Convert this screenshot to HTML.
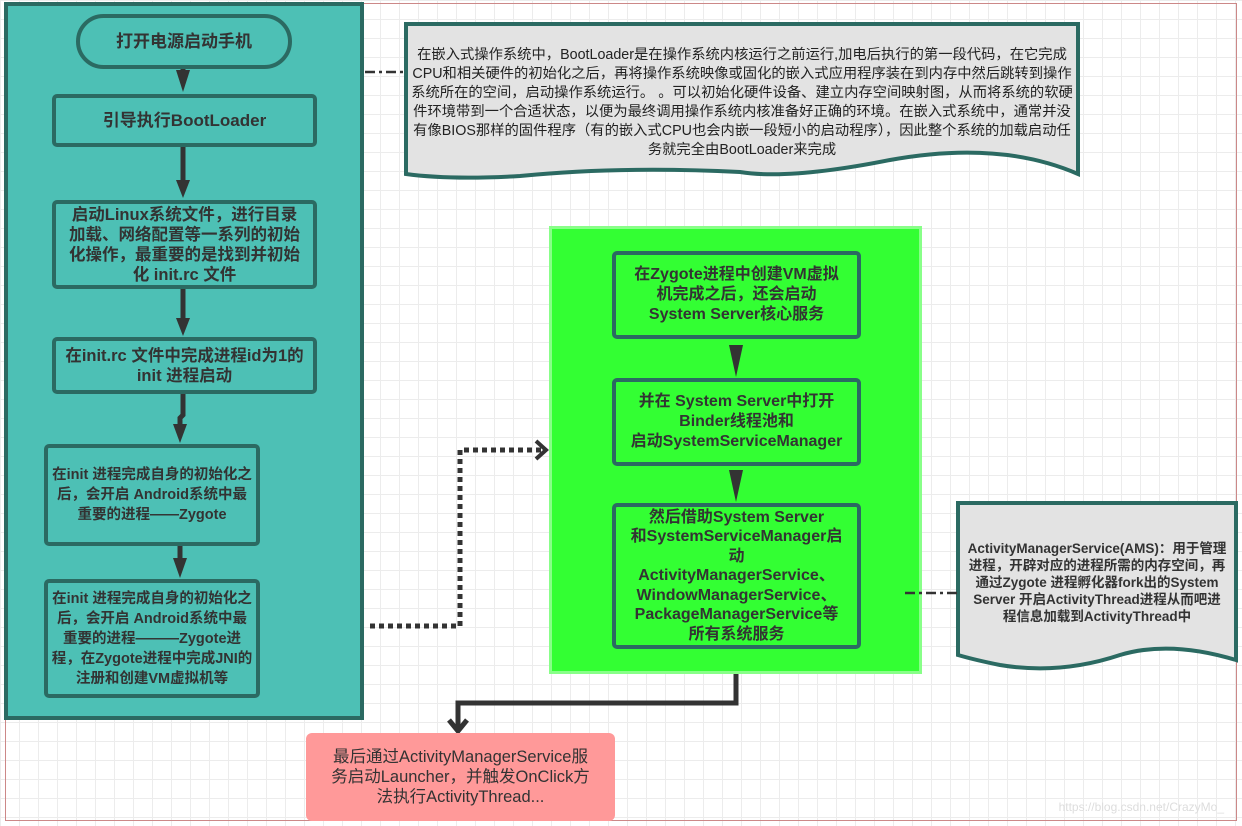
<!DOCTYPE html>
<html><head><meta charset="utf-8"><style>
body{margin:0;width:1242px;height:826px;overflow:hidden;background:#fff;
background-image:linear-gradient(#ececec 1px,transparent 1px),linear-gradient(90deg,#ececec 1px,transparent 1px);background-size:19px 19px;
font-family:"Liberation Sans","Noto Sans CJK SC",sans-serif;position:relative}
.b{position:absolute;box-sizing:border-box;display:flex;align-items:center;justify-content:center;text-align:center;font-weight:bold;color:#333;white-space:nowrap}
.t{background:#4DC0B5;border:4px solid #2B6A62;border-radius:5px;font-size:17px;line-height:20px}
.g{background:#33FF33;border:4px solid #2B6A62;border-radius:5px;font-size:16px;line-height:20px}
svg{position:absolute;left:0;top:0}
</style></head><body>
<div style="position:absolute;left:5px;top:3px;width:1232px;height:818px;border:1px solid #c88;box-sizing:border-box"></div>
<div class="b" style="left:4px;top:2px;width:360px;height:718px;background:#4DC0B5;border:4px solid #2B6A62"></div>
<div class="b" style="left:549px;top:226px;width:373px;height:448px;background:#33FF33;border:3px solid #88FF88"></div>
<svg width="1242" height="826">
<path d="M406 24 L1078 24 L1078 174 Q1000 140 890 160 Q790 180 740 172 Q620 166 520 176 Q450 180 406 174 Z" fill="#e3e3e3" stroke="#2B6A62" stroke-width="4"/>
<path d="M958 503 L1236 503 L1236 660 Q1170 640 1120 655 Q1060 675 1000 665 Q975 660 958 655 Z" fill="#e3e3e3" stroke="#2B6A62" stroke-width="4"/>
<g stroke="#333" stroke-width="5" fill="#333">
<line x1="183" y1="68" x2="183" y2="80"/><path d="M176 70 L190 70 L183 92 Z" stroke="none"/>
<line x1="183" y1="146" x2="183" y2="185"/><path d="M176 180 L190 180 L183 198 Z" stroke="none"/>
<line x1="183" y1="288" x2="183" y2="322"/><path d="M176 318 L190 318 L183 336 Z" stroke="none"/>
<path d="M183 393 L183 415 L180 418 L180 428" fill="none"/><path d="M173 424 L187 424 L180 443 Z" stroke="none"/>
<line x1="180" y1="545" x2="180" y2="562"/><path d="M173 558 L187 558 L180 578 Z" stroke="none"/>
<path d="M729 345 L743 345 L736 377 Z" stroke="none"/>
<path d="M729 470 L743 470 L736 502 Z" stroke="none"/>
<path d="M736 674 L736 703 L458 703 L458 728" fill="none"/>
<path d="M449 720 L458 731 L467 720" fill="none"/>
</g>
<path d="M370 626 L460 626 L460 450 L543 450" fill="none" stroke="#333" stroke-width="5" stroke-dasharray="5 4"/>
<path d="M536 441 L546 450 L536 459" fill="none" stroke="#333" stroke-width="4"/>
<line x1="365" y1="72" x2="405" y2="72" stroke="#333" stroke-width="2.5" stroke-dasharray="10 4 3 4"/>
<line x1="905" y1="593" x2="957" y2="593" stroke="#333" stroke-width="2.5" stroke-dasharray="10 4 3 4"/>
</svg>
<div class="b t" style="left:76px;top:14px;width:216px;height:55px;border-radius:28px">打开电源启动手机</div>
<div class="b t" style="left:52px;top:94px;width:265px;height:53px">引导执行BootLoader</div>
<div class="b t" style="left:52px;top:200px;width:265px;height:89px;font-size:16.5px">启动Linux系统文件，进行目录<br>加载、网络配置等一系列的初始<br>化操作，最重要的是找到并初始<br>化 init.rc 文件</div>
<div class="b t" style="left:52px;top:337px;width:265px;height:57px;font-size:16.5px">在init.rc 文件中完成进程id为1的<br>init 进程启动</div>
<div class="b t" style="left:44px;top:444px;width:216px;height:102px;font-size:14.5px">在init 进程完成自身的初始化之<br>后，会开启 Android系统中最<br>重要的进程——Zygote</div>
<div class="b t" style="left:44px;top:579px;width:216px;height:119px;font-size:14.5px">在init 进程完成自身的初始化之<br>后，会开启 Android系统中最<br>重要的进程———Zygote进<br>程，在Zygote进程中完成JNI的<br>注册和创建VM虚拟机等</div>
<div class="b" style="left:408px;top:46px;width:668px;font-size:14.3px;line-height:19px;font-weight:normal;color:#222">在嵌入式操作系统中，BootLoader是在操作系统内核运行之前运行,加电后执行的第一段代码，在它完成<br>CPU和相关硬件的初始化之后，再将操作系统映像或固化的嵌入式应用程序装在到内存中然后跳转到操作<br>系统所在的空间，启动操作系统运行。 。可以初始化硬件设备、建立内存空间映射图，从而将系统的软硬<br>件环境带到一个合适状态，以便为最终调用操作系统内核准备好正确的环境。在嵌入式系统中，通常并没<br>有像BIOS那样的固件程序（有的嵌入式CPU也会内嵌一段短小的启动程序），因此整个系统的加载启动任<br>务就完全由BootLoader来完成</div>
<div class="b g" style="left:612px;top:251px;width:249px;height:88px">在Zygote进程中创建VM虚拟<br>机完成之后，还会启动<br>System Server核心服务</div>
<div class="b g" style="left:612px;top:378px;width:249px;height:88px">并在 System Server中打开<br>Binder线程池和<br>启动SystemServiceManager</div>
<div class="b g" style="left:612px;top:503px;width:249px;height:146px;line-height:19.5px">然后借助System Server<br>和SystemServiceManager启<br>动<br>ActivityManagerService、<br>WindowManagerService、<br>PackageManagerService等<br>所有系统服务</div>
<div class="b" style="left:958px;top:540px;width:278px;font-size:13.5px;line-height:17px;font-weight:bold;color:#333">ActivityManagerService(AMS)：用于管理<br>进程，开辟对应的进程所需的内存空间，再<br>通过Zygote 进程孵化器fork出的System<br>Server 开启ActivityThread进程从而吧进<br>程信息加载到ActivityThread中</div>
<div class="b" style="left:306px;top:733px;width:309px;height:88px;background:#FF9999;border-radius:6px;font-size:16.5px;line-height:20px;font-weight:normal;color:#333">最后通过ActivityManagerService服<br>务启动Launcher，并触发OnClick方<br>法执行ActivityThread...</div>
<div style="position:absolute;right:18px;top:800px;font-size:12px;color:#ddd">https://blog.csdn.net/CrazyMo_</div>
</body></html>
